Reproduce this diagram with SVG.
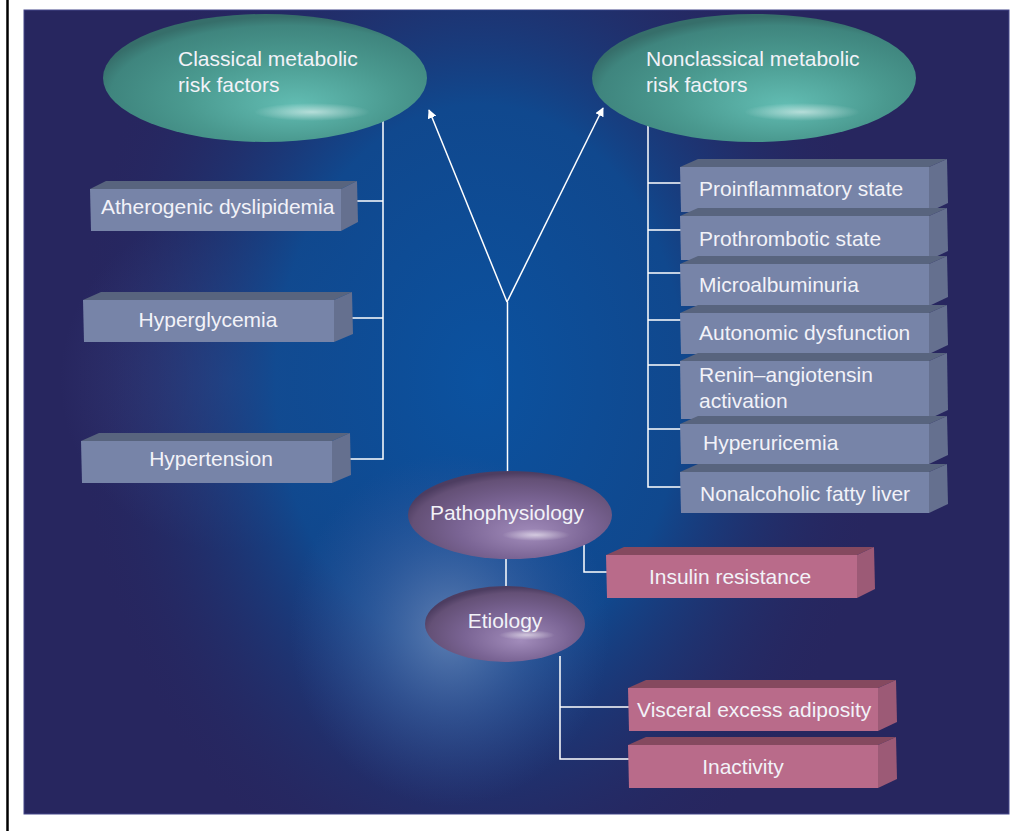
<svg xmlns="http://www.w3.org/2000/svg" width="1035" height="832" viewBox="0 0 1035 832">
<defs>
<radialGradient id="bgBlue" gradientUnits="userSpaceOnUse" cx="480" cy="380" r="480" gradientTransform="translate(480 380) scale(0.85 1.15) translate(-480 -380)">
<stop offset="0" stop-color="#0b52a0" stop-opacity="1"/>
<stop offset="0.5" stop-color="#0c4e96" stop-opacity="0.85"/>
<stop offset="1" stop-color="#27265f" stop-opacity="0"/>
</radialGradient>
<radialGradient id="bgGlow" gradientUnits="userSpaceOnUse" cx="450" cy="630" r="160" gradientTransform="translate(450 630) scale(1 1.1) translate(-450 -630)">
<stop offset="0" stop-color="#6c88b8" stop-opacity="0.85"/>
<stop offset="0.5" stop-color="#4b69a6" stop-opacity="0.45"/>
<stop offset="1" stop-color="#3a5598" stop-opacity="0"/>
</radialGradient>
<radialGradient id="bgSide" gradientUnits="userSpaceOnUse" cx="230" cy="380" r="170">
<stop offset="0" stop-color="#46559a" stop-opacity="0.5"/>
<stop offset="1" stop-color="#46559a" stop-opacity="0"/>
</radialGradient>
<radialGradient id="teal" cx="0.56" cy="0.62" r="0.6" fx="0.6" fy="0.72">
<stop offset="0" stop-color="#62bdb3"/>
<stop offset="0.55" stop-color="#4a998f"/>
<stop offset="0.9" stop-color="#3f857e"/>
<stop offset="1" stop-color="#366e6a"/>
</radialGradient>
<radialGradient id="purple" cx="0.56" cy="0.62" r="0.6" fx="0.6" fy="0.72">
<stop offset="0" stop-color="#a28cbb"/>
<stop offset="0.55" stop-color="#7a6494"/>
<stop offset="0.9" stop-color="#645076"/>
<stop offset="1" stop-color="#4d3d61"/>
</radialGradient>
<radialGradient id="hl">
<stop offset="0" stop-color="#ffffff" stop-opacity="0.55"/>
<stop offset="1" stop-color="#ffffff" stop-opacity="0"/>
</radialGradient>
<marker id="arr" viewBox="0 0 10 10" refX="9" refY="5" markerWidth="9" markerHeight="9" markerUnits="userSpaceOnUse" orient="auto">
<path d="M0,0 L10,5 L0,10 Z" fill="#ffffff"/>
</marker>
<style>
.t{font-family:"Liberation Sans",Arial,sans-serif;font-size:21px;fill:#f2f2f8}
.tm{text-anchor:middle}
.bf{fill:#7784a8}
.bt{fill:#58647e}
.bs{fill:#65708f}
.pf{fill:#b96b8a}
.pt{fill:#85495f}
.ps{fill:#9c5a76}
.ln{stroke:#ffffff;stroke-width:1.5;fill:none}
</style>
</defs>
<rect x="0" y="0" width="1035" height="832" fill="#ffffff"/>
<line x1="7.5" y1="0" x2="7.5" y2="831" stroke="#000000" stroke-width="2.5"/>
<g id="background">
<rect x="24" y="10" width="985" height="804" fill="#27265f" stroke="#45468a" stroke-width="1"/>
<rect x="24" y="10" width="985" height="804" fill="url(#bgSide)"/>
<rect x="24" y="10" width="985" height="804" fill="url(#bgBlue)"/>
<rect x="24" y="10" width="985" height="804" fill="url(#bgGlow)"/>
</g>
<g id="connectors">
<line class="ln" x1="507" y1="302" x2="429" y2="110" marker-end="url(#arr)"/>
<line class="ln" x1="507" y1="302" x2="603" y2="108" marker-end="url(#arr)"/>
<line class="ln" x1="507.5" y1="302" x2="507.5" y2="473"/>
<line class="ln" x1="506" y1="558" x2="506" y2="587"/>
<polyline class="ln" points="383,120 383,459 344,459"/>
<line class="ln" x1="353" y1="201" x2="383" y2="201"/>
<line class="ln" x1="346" y1="318" x2="383" y2="318"/>
<polyline class="ln" points="648,124 648,487 681,487"/>
<line class="ln" x1="648" y1="183" x2="681" y2="183"/>
<line class="ln" x1="648" y1="230" x2="681" y2="230"/>
<line class="ln" x1="648" y1="273" x2="681" y2="273"/>
<line class="ln" x1="648" y1="320" x2="681" y2="320"/>
<line class="ln" x1="648" y1="365" x2="681" y2="365"/>
<line class="ln" x1="648" y1="429" x2="681" y2="429"/>
<polyline class="ln" points="584,545 584,572 607,572"/>
<polyline class="ln" points="560,656 560,759 633,759"/>
<line class="ln" x1="560" y1="707" x2="629" y2="707"/>
</g>
<g id="classical">
<ellipse cx="265" cy="78" rx="162" ry="64" fill="url(#teal)"/>
<ellipse cx="312" cy="112" rx="58" ry="9" fill="url(#hl)"/>
<text class="t" x="178" y="66">Classical metabolic</text>
<text class="t" x="178" y="92">risk factors</text>
</g>
<g id="nonclassical">
<ellipse cx="754" cy="78" rx="162" ry="64" fill="url(#teal)"/>
<ellipse cx="802" cy="112" rx="58" ry="9" fill="url(#hl)"/>
<text class="t" x="646" y="66">Nonclassical metabolic</text>
<text class="t" x="646" y="92">risk factors</text>
</g>
<g id="atherogenic">
<polygon class="bt" points="90,189 106,181 357,181 341,189"/>
<polygon class="bs" points="341,189 357,181 358,222 341,231"/>
<polygon class="bf" points="90,189 341,189 341,231 91,231"/>
<text class="t" x="101" y="214">Atherogenic dyslipidemia</text>
</g>
<g id="hyperglycemia">
<polygon class="bt" points="83,300 101,292 352,292 334,300"/>
<polygon class="bs" points="334,300 352,292 353,334 334,342"/>
<polygon class="bf" points="83,300 334,300 334,342 84,342"/>
<text class="t tm" x="208" y="327">Hyperglycemia</text>
</g>
<g id="hypertension">
<polygon class="bt" points="81,441 99,433 350,433 332,441"/>
<polygon class="bs" points="332,441 350,433 351,475 332,483"/>
<polygon class="bf" points="81,441 332,441 332,483 82,483"/>
<text class="t tm" x="211" y="466">Hypertension</text>
</g>
<g id="proinflammatory">
<polygon class="bt" points="680,167 698,159 947,159 929,167"/>
<polygon class="bs" points="929,167 947,159 948,203 929,212"/>
<polygon class="bf" points="680,167 929,167 929,212 681,212"/>
<text class="t" x="699" y="196">Proinflammatory state</text>
</g>
<g id="prothrombotic">
<polygon class="bt" points="680,216 698,208 947,208 929,216"/>
<polygon class="bs" points="929,216 947,208 948,251 929,260"/>
<polygon class="bf" points="680,216 929,216 929,260 681,260"/>
<text class="t" x="699" y="246">Prothrombotic state</text>
</g>
<g id="microalbuminuria">
<polygon class="bt" points="680,264 698,256 947,256 929,264"/>
<polygon class="bs" points="929,264 947,256 948,297 929,306"/>
<polygon class="bf" points="680,264 929,264 929,306 681,306"/>
<text class="t" x="699" y="292">Microalbuminuria</text>
</g>
<g id="autonomic">
<polygon class="bt" points="680,313 698,305 947,305 929,313"/>
<polygon class="bs" points="929,313 947,305 948,345 929,354"/>
<polygon class="bf" points="680,313 929,313 929,354 681,354"/>
<text class="t" x="699" y="340">Autonomic dysfunction</text>
</g>
<g id="renin">
<polygon class="bt" points="680,361 698,353 947,353 929,361"/>
<polygon class="bs" points="929,361 947,353 948,410 929,419"/>
<polygon class="bf" points="680,361 929,361 929,419 681,419"/>
<text class="t" x="699" y="382">Renin–angiotensin</text>
<text class="t" x="699" y="408">activation</text>
</g>
<g id="hyperuricemia">
<polygon class="bt" points="680,424 698,416 947,416 929,424"/>
<polygon class="bs" points="929,424 947,416 948,455 929,464"/>
<polygon class="bf" points="680,424 929,424 929,464 681,464"/>
<text class="t" x="703" y="450">Hyperuricemia</text>
</g>
<g id="nonalcoholic">
<polygon class="bt" points="680,472 698,464 947,464 929,472"/>
<polygon class="bs" points="929,472 947,464 948,504 929,513"/>
<polygon class="bf" points="680,472 929,472 929,513 681,513"/>
<text class="t" x="700" y="501">Nonalcoholic fatty liver</text>
</g>
<g id="pathophysiology">
<ellipse cx="510" cy="515" rx="102" ry="44" fill="url(#purple)"/>
<ellipse cx="536" cy="535" rx="34" ry="6" fill="url(#hl)"/>
<text class="t tm" x="507" y="520">Pathophysiology</text>
</g>
<g id="insulin">
<polygon class="pt" points="606,555 624,547 874,547 857,555"/>
<polygon class="ps" points="857,555 874,547 875,589 857,598"/>
<polygon class="pf" points="606,555 857,555 857,598 607,598"/>
<text class="t tm" x="730" y="584">Insulin resistance</text>
</g>
<g id="etiology">
<ellipse cx="505" cy="624" rx="80" ry="38" fill="url(#purple)"/>
<ellipse cx="527" cy="635" rx="28" ry="5" fill="url(#hl)"/>
<text class="t tm" x="505" y="628">Etiology</text>
</g>
<g id="visceral">
<polygon class="pt" points="628,688 646,680 896,680 878,688"/>
<polygon class="ps" points="878,688 896,680 897,722 878,731"/>
<polygon class="pf" points="628,688 878,688 878,731 629,731"/>
<text class="t" x="637" y="717">Visceral excess adiposity</text>
</g>
<g id="inactivity">
<polygon class="pt" points="628,745 646,737 896,737 878,745"/>
<polygon class="ps" points="878,745 896,737 897,779 878,788"/>
<polygon class="pf" points="628,745 878,745 878,788 629,788"/>
<text class="t tm" x="743" y="774">Inactivity</text>
</g>
</svg>
